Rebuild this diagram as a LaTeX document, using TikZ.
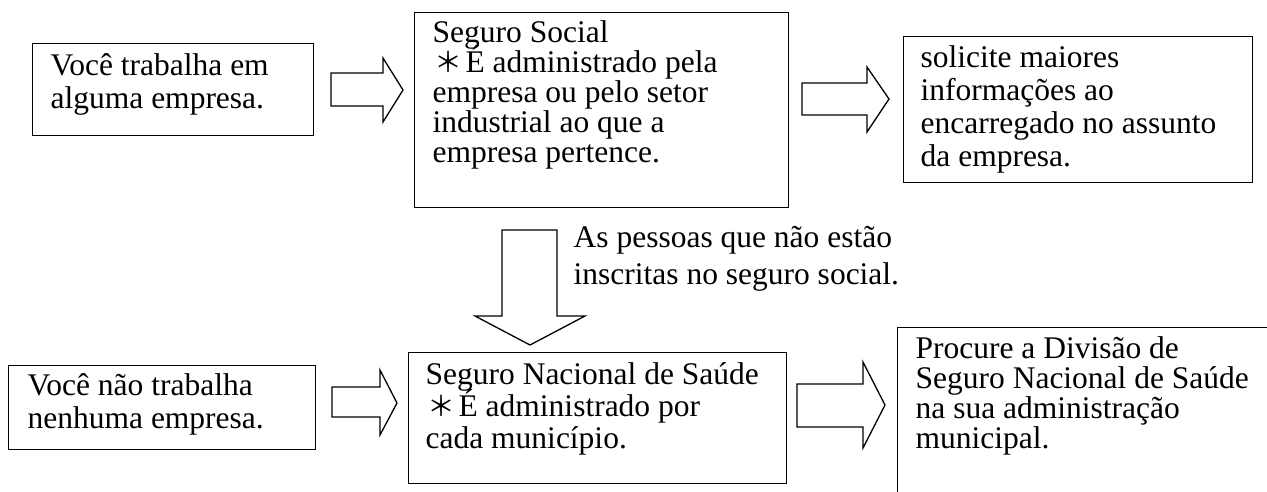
\documentclass[tikz,border=0pt]{standalone}
\usepackage{fontspec}
\setmainfont{Liberation Serif}
\newfontfamily\cjkfont{Noto Sans CJK JP}
\newcommand{\mylines}[2]{\vtop{\baselineskip=#1\lineskiplimit=-100pt\lineskip=0pt\halign{##\hfil\cr #2\crcr}}}
\newcommand{\myast}{\hspace{2pt}{\cjkfont\fontsize{28}{28}\selectfont ＊}\hspace{3pt}}
\begin{document}
\begin{tikzpicture}[x=1pt,y=-1pt,line width=1.3pt,
  box/.style={draw, rectangle, inner sep=0pt, anchor=north west},
  txt/.style={anchor=base west, inner sep=0pt, font=\fontsize{31.5}{33}\selectfont},
  barrow/.style={draw, line join=miter, line width=1.3pt}]
\useasboundingbox (0,0) rectangle (1267,491);
\clip (0,0) rectangle (1267,491);
% boxes
\node[box, minimum width=281pt, minimum height=92pt] (b1) at (32,43) {};
\node[box, minimum width=374pt, minimum height=195pt] (b2) at (414,12) {};
\node[box, minimum width=349pt, minimum height=146pt] (b3) at (903,36) {};
\node[box, minimum width=307pt, minimum height=84pt] (b4) at (8,365) {};
\node[box, minimum width=378pt, minimum height=131pt] (b5) at (408,352) {};
\node[box, minimum width=420pt, minimum height=220pt] (b6) at (897,327) {};
% texts
\node[txt] (t1) at (50,75) {\mylines{33pt}{Você trabalha em\cr alguma empresa.}};
\node[txt] (t2) at (432,42) {\mylines{30pt}{Seguro Social\cr \myast É administrado pela\cr empresa ou pelo setor\cr industrial ao que a\cr empresa pertence.}};
\node[txt] (t3) at (920,67) {\mylines{33pt}{solicite maiores\cr informações ao\cr encarregado no assunto\cr da empresa.}};
\node[txt] (t4) at (27,395) {\mylines{33pt}{Você não trabalha\cr nenhuma empresa.}};
\node[txt] (t5) at (425,384) {\mylines{32pt}{Seguro Nacional de Saúde\cr \myast É administrado por\cr cada município.}};
\node[txt] (t6) at (915,358) {\mylines{30pt}{Procure a Divisão de\cr Seguro Nacional de Saúde\cr na sua administração\cr municipal.}};
\node[txt] (lab) at (573,247) {\mylines{37pt}{As pessoas que não estão\cr inscritas no seguro social.}};
% block arrows
\draw[barrow] (331,73) -- (383,73) -- (383,58) -- (403,90) -- (383,122) -- (383,106) -- (331,106) -- cycle;
\draw[barrow] (802,83) -- (867,83) -- (867,67) -- (889,99) -- (867,132) -- (867,115) -- (802,115) -- cycle;
\draw[barrow] (332,387) -- (380,387) -- (380,370) -- (397,403) -- (380,435) -- (380,417) -- (332,417) -- cycle;
\draw[barrow] (797,384) -- (863,384) -- (863,362) -- (885,405) -- (863,448) -- (863,427) -- (797,427) -- cycle;
\draw[barrow] (502,230) -- (557,230) -- (557,316) -- (585,316) -- (530,345) -- (475,316) -- (502,316) -- cycle;
\end{tikzpicture}
\end{document}
